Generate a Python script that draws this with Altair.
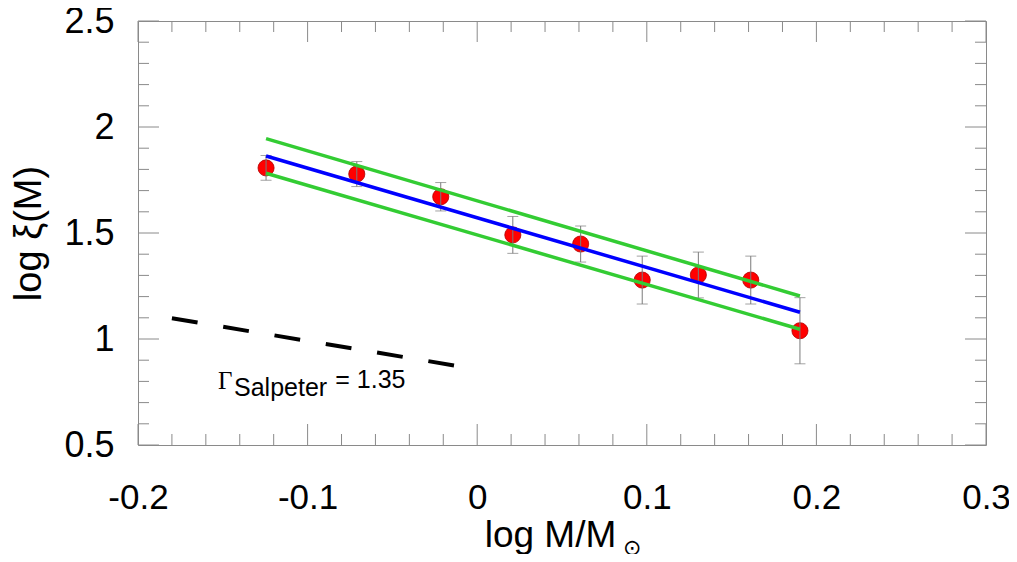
import altair as alt
import pandas as pd

# ---- data ----
mass_x = [-0.1245, -0.071, -0.0215, 0.021, 0.061, 0.0973, 0.1304, 0.1613, 0.1903]
log_xi = [1.807, 1.778, 1.671, 1.491, 1.448, 1.278, 1.302, 1.278, 1.039]
err = [0.058, 0.059, 0.067, 0.087, 0.085, 0.113, 0.108, 0.113, 0.156]

fit_x = [-0.1245, 0.1903]
fit_mid = [1.863, 1.126]
fit_upper = [1.945, 1.203]
fit_lower = [1.782, 1.046]

salp_x = [-0.180, -0.009]
salp_y = [1.098, 0.869]

x_major = [-0.2, -0.1, 0, 0.1, 0.2, 0.3]
x_minor = [-0.18, -0.16, -0.14, -0.12, -0.08, -0.06, -0.04, -0.02,
           0.02, 0.04, 0.06, 0.08, 0.12, 0.14, 0.16, 0.18,
           0.22, 0.24, 0.26, 0.28]
y_major = [0.5, 1.0, 1.5, 2.0, 2.5]
y_minor = [0.6, 0.7, 0.8, 0.9, 1.1, 1.2, 1.3, 1.4, 1.6, 1.7, 1.8, 1.9,
           2.1, 2.2, 2.3, 2.4]

W, H = 848, 424
MAJ, MIN = 21, 11
SANS = "Liberation Sans"

xs = alt.Scale(domain=[-0.2, 0.3], nice=False, zero=False)
ys = alt.Scale(domain=[0.5, 2.5], nice=False, zero=False)

pts = pd.DataFrame({"x": mass_x, "y": log_xi, "e": err})
pts["lo"] = pts["y"] - pts["e"]
pts["hi"] = pts["y"] + pts["e"]

fits = pd.DataFrame({
    "x": fit_x * 3,
    "y": fit_mid + fit_upper + fit_lower,
    "s": ["mid"] * 2 + ["up"] * 2 + ["low"] * 2,
})
salp = pd.DataFrame({"x": salp_x, "y": salp_y})

X = alt.X("x:Q", scale=xs, axis=alt.Axis(
    values=x_major, title="log M/M", labelExpr="datum.value + ''",
    labelFontSize=35,
    titleX=W / 2 - 12, titlePadding=2, titleFontSize=37))
Y = alt.Y("y:Q", scale=ys, axis=alt.Axis(
    values=y_major, title="log ξ(M)", labelExpr="datum.value + ''",
    titlePadding=15, titleFontSize=38))

base = alt.Chart(pts)

points = base.mark_circle(size=260, color="#ff0000", opacity=1,
                          stroke="#b00000", strokeWidth=0.8).encode(x=X, y=Y)
bars = base.mark_rule(color="#7a7a7a", strokeWidth=1).encode(
    x="x:Q", y="lo:Q", y2="hi:Q")
cap_lo = base.mark_tick(color="#7a7a7a", orient="horizontal", size=11,
                        thickness=1).encode(x="x:Q", y="lo:Q")
cap_hi = base.mark_tick(color="#7a7a7a", orient="horizontal", size=11,
                        thickness=1).encode(x="x:Q", y="hi:Q")

lines = alt.Chart(fits).mark_line(strokeWidth=3.5).encode(
    x="x:Q", y="y:Q", detail="s:N",
    color=alt.Color("s:N", scale=alt.Scale(domain=["mid", "up", "low"],
                                           range=["#0000ff", "#33cc33", "#33cc33"]),
                    legend=None))

salpeter = alt.Chart(salp).mark_line(color="black", strokeWidth=4,
                                     strokeDash=[26, 26]).encode(x="x:Q", y="y:Q")

# ticks (inward on all four sides)
txmaj = pd.DataFrame({"x": x_major})
txmin = pd.DataFrame({"x": x_minor})
tymaj = pd.DataFrame({"y": y_major})
tymin = pd.DataFrame({"y": y_minor})
tc = "#8a8a8a"
tick_layers = []
for df, ln in [(txmaj, MAJ), (txmin, MIN)]:
    tick_layers.append(alt.Chart(df).mark_rule(color=tc, strokeWidth=1).encode(
        x="x:Q", y=alt.value(H), y2=alt.value(H - ln)))
    tick_layers.append(alt.Chart(df).mark_rule(color=tc, strokeWidth=1).encode(
        x="x:Q", y=alt.value(0), y2=alt.value(ln)))
for df, ln in [(tymaj, MAJ), (tymin, MIN)]:
    tick_layers.append(alt.Chart(df).mark_rule(color=tc, strokeWidth=1).encode(
        y="y:Q", x=alt.value(0), x2=alt.value(ln)))
    tick_layers.append(alt.Chart(df).mark_rule(color=tc, strokeWidth=1).encode(
        y="y:Q", x=alt.value(W), x2=alt.value(W - ln)))

# annotation text
ann = pd.DataFrame({
    "x": [-0.1528, -0.1434, -0.0837, 0.086],
    "y": [0.765, 0.733, 0.769, -0.019],
    "t": ["Γ", "Salpeter", "= 1.35", "⊙"],
})
gamma = alt.Chart(ann.iloc[[0]]).mark_text(
    font="Liberation Serif", fontSize=25, align="left", baseline="alphabetic",
    color="black").encode(x="x:Q", y="y:Q", text="t:N")
salp_txt = alt.Chart(ann.iloc[[1, 2]]).mark_text(
    font=SANS, fontSize=25, align="left", baseline="alphabetic",
    color="black").encode(x="x:Q", y="y:Q", text="t:N")
sun = alt.Chart(ann.iloc[[3]]).mark_text(
    font="DejaVu Sans", fontSize=22, align="left", baseline="alphabetic",
    color="black").encode(x="x:Q", y="y:Q", text="t:N")

chart = alt.layer(
    *tick_layers, points, bars, cap_lo, cap_hi, lines, salpeter,
    gamma, salp_txt, sun,
).properties(
    width=W, height=H,
    autosize=alt.AutoSizeParams(type="none"),
    padding={"left": 130, "top": 13, "right": 23, "bottom": 109},
).configure_view(
    stroke="#8a8a8a", strokeWidth=1
).configure_axis(
    grid=False, ticks=False, domain=False,
    labelFont=SANS, labelFontSize=36, labelColor="black",
    labelFlush=False, labelOverlap=False,
    titleFont=SANS, titleFontWeight="normal", titleColor="black",
).configure_axisX(
    labelPadding=35,
).configure_axisY(
    labelPadding=24,
)

chart.save("out.html", embed_options={"renderer": "svg", "actions": False})
